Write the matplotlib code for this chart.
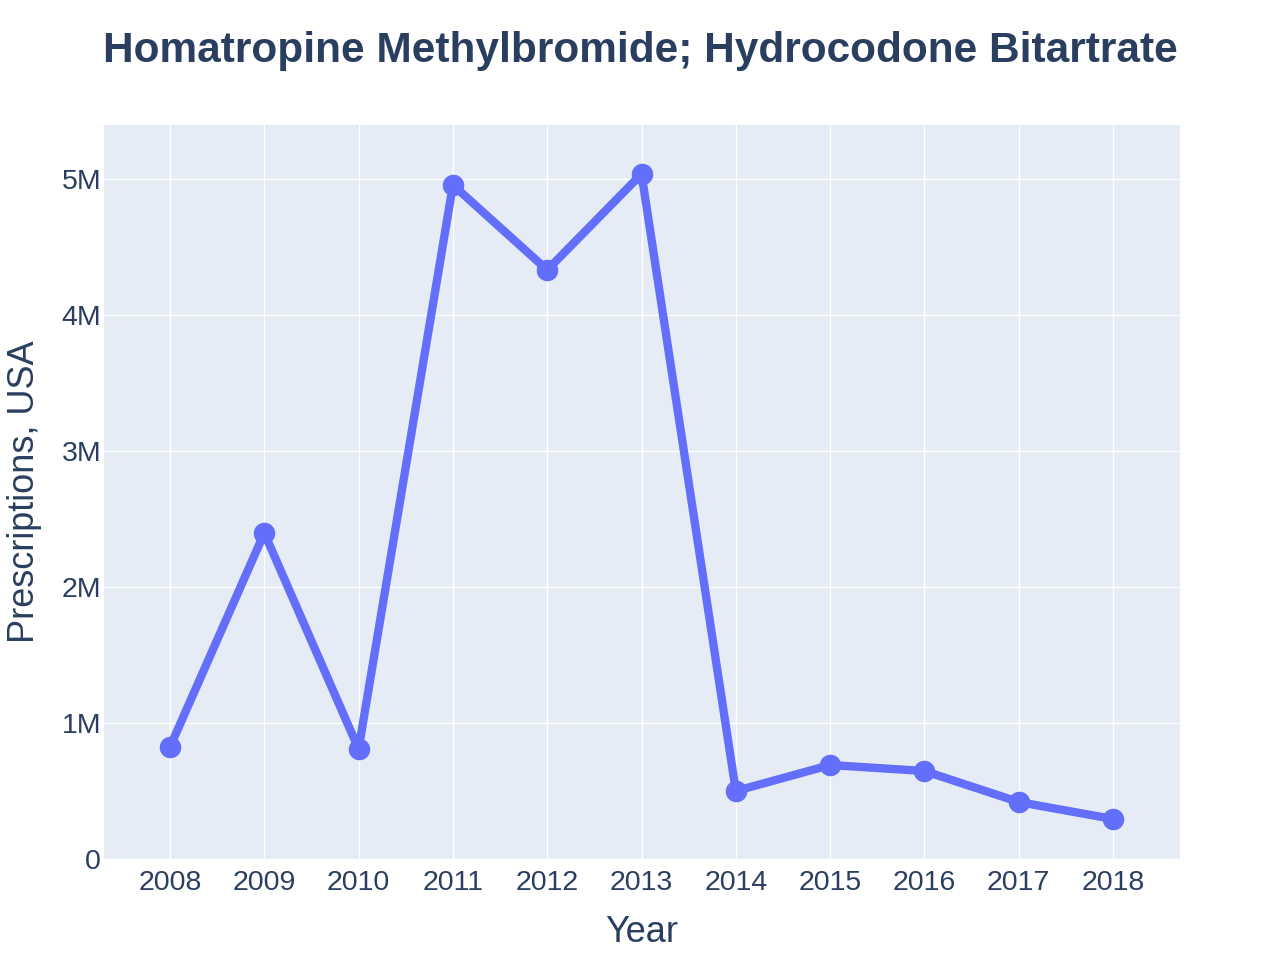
import matplotlib

matplotlib.use("Agg")
import matplotlib.pyplot as plt
from matplotlib.ticker import FuncFormatter

# values
years = [2008, 2009, 2010, 2011, 2012, 2013, 2014, 2015, 2016, 2017, 2018]
prescriptions = [824000, 2397000, 809000, 4956000, 4331000, 5037000,
                 500000, 691000, 647000, 419000, 294000]
y_ticks = [0, 1e6, 2e6, 3e6, 4e6, 5e6]

BG = "#E5ECF6"
LINE = "#636EFA"
TEXT = "#2a3f5f"

plt.rcParams["font.family"] = ["Liberation Sans", "DejaVu Sans"]

fig = plt.figure(figsize=(12.8, 9.6), dpi=100)
ax = fig.add_axes([104 / 1280, 1 - 859 / 960, (1180 - 104) / 1280, (859 - 125) / 960])
ax.set_facecolor(BG)

ax.plot(years, prescriptions, color=LINE, linewidth=6, marker="o",
        markersize=14.5, solid_joinstyle="round", zorder=3)

ax.set_xlim(2007.3, 2018.71)
ax.set_ylim(0, 5.397e6)
ax.set_xticks(years)
ax.set_yticks(y_ticks)
ax.yaxis.set_major_formatter(FuncFormatter(lambda v, _: "0" if v == 0 else f"{v / 1e6:.0f}M"))
ax.grid(True, color="white", linewidth=1.0, zorder=0)
ax.set_axisbelow(True)
for s in ax.spines.values():
    s.set_visible(False)
ax.tick_params(length=0, labelsize=20.5, colors=TEXT)
ax.tick_params(axis="x", pad=8)
ax.tick_params(axis="y", pad=2)

xl = ax.set_xlabel("Year", fontsize=26, color=TEXT)
yl = ax.set_ylabel("Prescriptions, USA", fontsize=26, color=TEXT)
ax.xaxis.set_label_coords(0.5, (859 - 932) / 734)
ax.yaxis.set_label_coords((25 - 104) / 1076, 0.5)
xl.set_verticalalignment("center")
yl.set_verticalalignment("center")

fig.text(0.5, 1 - 51 / 960, "Homatropine Methylbromide; Hydrocodone Bitartrate",
         ha="center", va="center", fontsize=30.5, fontweight="bold", color=TEXT)

fig.savefig("out.png", dpi=100)
